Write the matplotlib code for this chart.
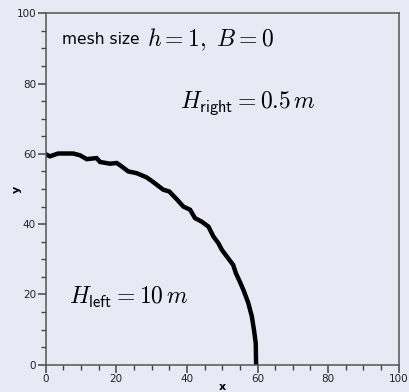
"""
front of a radial flow, mesh size h = 1
"""
import matplotlib.pyplot as plt
from matplotlib.ticker import MultipleLocator

plt.rcParams["mathtext.fontset"] = "cm"

front_x = [0.0, 1.2, 3.5, 7.8, 9.7, 11.6, 14.4, 15.4, 18.2, 20.1, 21.0, 23.4, 25.8,
           28.6, 30.3, 33.3, 35.0, 37.1, 39.0, 40.9, 42.3, 44.2, 46.1, 47.5, 48.9,
           49.9, 51.3, 53.1, 53.9, 55.0, 56.0, 56.9, 57.4, 58.4, 59.0, 59.5, 59.6]
front_y = [59.9, 59.3, 60.1, 60.1, 59.6, 58.5, 58.8, 57.7, 57.2, 57.4, 56.8, 55.0, 54.5,
           53.3, 52.1, 49.8, 49.3, 47.1, 45.0, 44.1, 41.7, 40.7, 39.3, 36.5, 34.6,
           32.7, 30.8, 28.4, 26.0, 23.6, 21.3, 18.9, 17.5, 13.7, 9.9, 6.1, 0.4]

bg = "#e9e9f6"
fig = plt.figure(figsize=(4.09, 3.92), dpi=100, facecolor=bg)
ax = fig.add_axes([45.7 / 409, 27.3 / 392, 353 / 409, 351.4 / 392], facecolor=bg)

ax.plot(front_x, front_y, color="black", lw=3.2, solid_joinstyle="miter")

ax.set_xlim(0, 100)
ax.set_ylim(0, 100)
ax.xaxis.set_major_locator(MultipleLocator(20))
ax.yaxis.set_major_locator(MultipleLocator(20))
ax.xaxis.set_minor_locator(MultipleLocator(5))
ax.yaxis.set_minor_locator(MultipleLocator(5))
ax.tick_params(which="major", length=6, width=1.1, color="#444444",
               labelsize=7.5, labelcolor="#222222", pad=1)
ax.tick_params(which="minor", length=3.5, width=1.0, color="#444444")
for s in ax.spines.values():
    s.set_color("#555555")
    s.set_linewidth(1.1)

ax.set_xlabel("x", fontsize=8, fontweight="bold")
ax.set_ylabel("y", fontsize=8, fontweight="bold")
ax.xaxis.set_label_coords(0.5, -0.048)
ax.yaxis.set_label_coords(-0.068, 0.5)

ax.text(4.5, 92.5, "mesh size", fontsize=11.2, va="center")
ax.text(28.6, 92.5, r"$h=1,\ B=0$", fontsize=17, va="center")
ax.text(38, 74.3, r"$H_{\mathsf{right}}=0.5\,m$", fontsize=17, va="center")
ax.text(6.5, 19, r"$H_{\mathsf{left}}=10\,m$", fontsize=17, va="center")

fig.savefig("out.png", dpi=100, facecolor=bg)
